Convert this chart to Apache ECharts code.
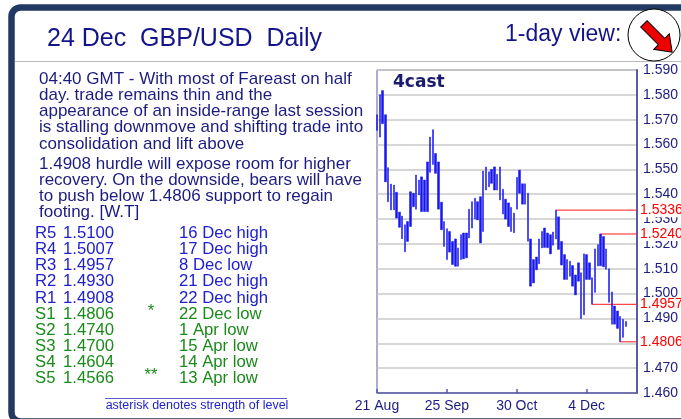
<!DOCTYPE html>
<html>
<head>
<meta charset="utf-8">
<title>24 Dec GBP/USD Daily</title>
<script src="https://cdn.jsdelivr.net/npm/echarts@6/dist/echarts.min.js"></script>
<style>
  html, body { margin: 0; padding: 0; background: #fff; }
  #chart { width: 681px; height: 419px; }
</style>
</head>
<body>
<div id="chart"></div>
<script>
// daily high / low, one per trading day from 21 Aug to 24 Dec
var highs = [
  1.5720, 1.5800, 1.5817, 1.5720, 1.5507, 1.5441, 1.5437, 1.5408, 1.5328, 1.5312,
  1.5277, 1.5290, 1.5410, 1.5404, 1.5477, 1.5457, 1.5470, 1.5457, 1.5530, 1.5630,
  1.5660, 1.5564, 1.5530, 1.5368, 1.5290, 1.5261, 1.5250, 1.5210, 1.5220, 1.5184,
  1.5237, 1.5244, 1.5244, 1.5340, 1.5370, 1.5384, 1.5370, 1.5390, 1.5493, 1.5510,
  1.5490, 1.5500, 1.5510, 1.5480, 1.5510, 1.5420, 1.5380, 1.5365, 1.5347, 1.5324,
  1.5468, 1.5497, 1.5442, 1.5442, 1.5404, 1.5220, 1.5137, 1.5147, 1.5220, 1.5250,
  1.5264, 1.5244, 1.5237, 1.5248, 1.5336, 1.5309, 1.5210, 1.5157, 1.5137, 1.5130,
  1.5113, 1.5075, 1.5124, 1.5084, 1.5160, 1.5157, 1.5124, 1.5064, 1.5180, 1.5197,
  1.5240, 1.5230, 1.5180, 1.5100, 1.5007, 1.4950, 1.4930, 1.4908, 1.4897, 1.4888
];
var lows = [
  1.5657, 1.5630, 1.5684, 1.5450, 1.5370, 1.5337, 1.5337, 1.5304, 1.5267, 1.5221,
  1.5168, 1.5210, 1.5270, 1.5350, 1.5340, 1.5397, 1.5330, 1.5330, 1.5330, 1.5488,
  1.5520, 1.5484, 1.5340, 1.5257, 1.5190, 1.5137, 1.5167, 1.5117, 1.5110, 1.5110,
  1.5137, 1.5140, 1.5144, 1.5224, 1.5264, 1.5300, 1.5297, 1.5204, 1.5250, 1.5417,
  1.5430, 1.5444, 1.5417, 1.5417, 1.5377, 1.5320, 1.5300, 1.5270, 1.5250, 1.5245,
  1.5340, 1.5404, 1.5360, 1.5360, 1.5211, 1.5030, 1.5043, 1.5096, 1.5120, 1.5184,
  1.5186, 1.5185, 1.5160, 1.5195, 1.5220, 1.5178, 1.5115, 1.5057, 1.5057, 1.5070,
  1.5030, 1.4995, 1.5050, 1.4900, 1.4915, 1.5057, 1.5057, 1.4957, 1.5005, 1.5111,
  1.5112, 1.5108, 1.5098, 1.4965, 1.4877, 1.4877, 1.4860, 1.4806, 1.4824, 1.4868
];
var tickLabels = ['21 Aug', '25 Sep', '30 Oct', '4 Dec'];
var keyLevels = [1.5336, 1.5240, 1.4957, 1.4806];

var para1 = [
  '04:40 GMT - With most of Fareast on half',
  'day. trade remains thin and the',
  'appearance of an inside-range last session',
  'is stalling downmove and shifting trade into',
  'consolidation and lift above'
];
var para2 = [
  '1.4908 hurdle will expose room for higher',
  'recovery. On the downside, bears will have',
  'to push below 1.4806 support to regain',
  'footing. [W.T]'
];
var levelNames = ['R5', 'R4', 'R3', 'R2', 'R1', 'S1', 'S2', 'S3', 'S4', 'S5'];
var levelValues = ['1.5100', '1.5007', '1.4957', '1.4930', '1.4908', '1.4806', '1.4740', '1.4700', '1.4604', '1.4566'];
var levelStars = ['', '', '', '', '', '*', '', '', '', '**'];
var levelNotes = ['16 Dec high', '17 Dec high', '8 Dec low', '21 Dec high', '22 Dec high',
  '22 Dec low', '1 Apr low', '15 Apr low', '14 Apr low', '13 Apr low'];

// trading-day categories, a few empty days padded at the right
var months = ['Jan', 'Feb', 'Mar', 'Apr', 'May', 'Jun', 'Jul', 'Aug', 'Sep', 'Oct', 'Nov', 'Dec'];
var dates = [];
var d = new Date(2015, 7, 21);
while (dates.length < highs.length + 4) {
  if (d.getDay() !== 0 && d.getDay() !== 6) {
    dates.push(d.getDate() + ' ' + months[d.getMonth()]);
  }
  d.setDate(d.getDate() + 1);
}

var candles = highs.map(function (h, i) {
  return [lows[i], h, lows[i], h];
});

var FONT = '"Liberation Sans", Arial, sans-serif';
var NAVY = '#1c1c80';

// red key levels: a line from the bar that set the level to the right edge
var levelSeries = keyLevels.map(function (v) {
  var from = highs.indexOf(v);
  if (from < 0) from = lows.indexOf(v);
  var pts = dates.map(function () { return null; });
  pts[from] = v;
  pts[dates.length - 1] = {
    value: v,
    label: {
      show: true, position: 'right', distance: 3,
      formatter: v.toFixed(4),
      color: '#ff0000', fontSize: 14, fontFamily: FONT, backgroundColor: '#fff'
    }
  };
  return {
    type: 'line',
    data: pts,
    connectNulls: true,
    silent: true,
    clip: false,
    symbol: 'circle',
    symbolSize: 0,
    showSymbol: true,
    lineStyle: { color: '#ff1a1a', width: 1 },
    itemStyle: { color: '#ff1a1a' },
    z: 3
  };
});

var graphics = [];

// frame, header
graphics.push({
  type: 'rect', z: 1,
  shape: { x: 11.5, y: 7.5, width: 720, height: 414, r: 9 },
  style: { fill: 'none', stroke: '#223a62', lineWidth: 6.5 }
});
graphics.push({
  type: 'line', z: 1,
  shape: { x1: 15, y1: 61.5, x2: 681, y2: 61.5 },
  style: { stroke: '#b8b8b8', lineWidth: 1 }
});
graphics.push({
  type: 'text', z: 10, x: 47, y: 39,
  style: { text: '24 Dec  GBP/USD  Daily', font: '25px ' + FONT, fill: '#14148a', verticalAlign: 'middle' }
});
graphics.push({
  type: 'text', z: 10, x: 505, y: 35,
  style: { text: '1-day view:', font: '23px ' + FONT, fill: '#14148a', verticalAlign: 'middle' }
});
graphics.push({
  type: 'circle', z: 10,
  shape: { cx: 654, cy: 35, r: 26 },
  style: { fill: '#fff', stroke: '#000', lineWidth: 1 }
});
graphics.push({
  type: 'polygon', z: 11, x: 658, y: 38, rotation: -Math.PI / 4,
  shape: { points: [[-20, -4.5], [5, -4.5], [5, -11], [20, 0], [5, 11], [5, 4.5], [-20, 4.5]] },
  style: { fill: '#ee0000', stroke: '#000', lineWidth: 1 }
});

// commentary
graphics.push({
  type: 'text', z: 10, x: 39, y: 71,
  style: { text: para1.join('\n'), font: '17px ' + FONT, lineHeight: 16.2, fill: NAVY }
});
graphics.push({
  type: 'text', z: 10, x: 39, y: 156,
  style: { text: para2.join('\n'), font: '17px ' + FONT, lineHeight: 16.2, fill: NAVY }
});

// support / resistance table
levelNames.forEach(function (name, k) {
  var y = 233.3 + k * 16.17;
  var col = name.charAt(0) === 'R' ? '#2020cc' : '#1a8a1a';
  var st = { font: '16.7px ' + FONT, fill: col, verticalAlign: 'middle' };
  graphics.push({ type: 'text', z: 10, x: 35, y: y, style: Object.assign({ text: name }, st) });
  graphics.push({ type: 'text', z: 10, x: 63, y: y, style: Object.assign({ text: levelValues[k] }, st) });
  graphics.push({ type: 'text', z: 10, x: 151, y: y - 3, style: Object.assign({ text: levelStars[k], align: 'center' }, st) });
  graphics.push({ type: 'text', z: 10, x: 179, y: y, style: Object.assign({ text: levelNotes[k] }, st) });
});
graphics.push({
  type: 'line', z: 10,
  shape: { x1: 105, y1: 398.5, x2: 287, y2: 398.5 },
  style: { stroke: '#5a5acc', lineWidth: 1 }
});
graphics.push({
  type: 'text', z: 10, x: 197, y: 406,
  style: { text: 'asterisk denotes strength of level', font: '12.5px ' + FONT, fill: '#2222cc', align: 'center', verticalAlign: 'middle' }
});

// 4cast tag in the plot
graphics.push({
  type: 'text', z: 10, x: 393, y: 83,
  style: { text: '4cast', font: 'bold 17px "DejaVu Sans", sans-serif', fill: '#1a1a6e', verticalAlign: 'middle' }
});

var chart = echarts.init(document.getElementById('chart'));
chart.setOption({
  animation: false,
  backgroundColor: '#fff',
  grid: {
    left: 377, top: 70, width: 260, height: 323,
    show: true, borderColor: '#5a5aa6', borderWidth: 1
  },
  xAxis: {
    type: 'category',
    data: dates,
    boundaryGap: false,
    axisLine: { lineStyle: { color: '#5a5aa6', width: 1.5 } },
    axisTick: {
      inside: true, length: 4,
      interval: function (i, v) { return tickLabels.indexOf(v) >= 0; },
      lineStyle: { color: '#5a5aa6', width: 1.5 }
    },
    axisLabel: {
      interval: function (i, v) { return tickLabels.indexOf(v) >= 0; },
      color: NAVY, fontSize: 14, fontFamily: FONT, margin: 6
    },
    splitLine: { show: false }
  },
  yAxis: {
    type: 'value',
    position: 'right',
    min: 1.46, max: 1.59, interval: 0.01,
    axisLine: { show: true, lineStyle: { color: '#5a5aa6', width: 2 } },
    axisTick: { show: false },
    axisLabel: {
      color: NAVY, fontSize: 14, fontFamily: FONT, margin: 6,
      formatter: function (v) { return v.toFixed(3); }
    },
    splitLine: { lineStyle: { color: '#cacaca', width: 1.5 } }
  },
  series: [{
    type: 'candlestick',
    data: candles,
    barWidth: 2,
    clip: false,
    z: 4,
    itemStyle: {
      color: '#1616ee', color0: '#1616ee',
      borderColor: '#1616ee', borderColor0: '#1616ee', borderWidth: 0.5
    }
  }].concat(levelSeries),
  graphic: graphics
});
</script>
</body>
</html>
